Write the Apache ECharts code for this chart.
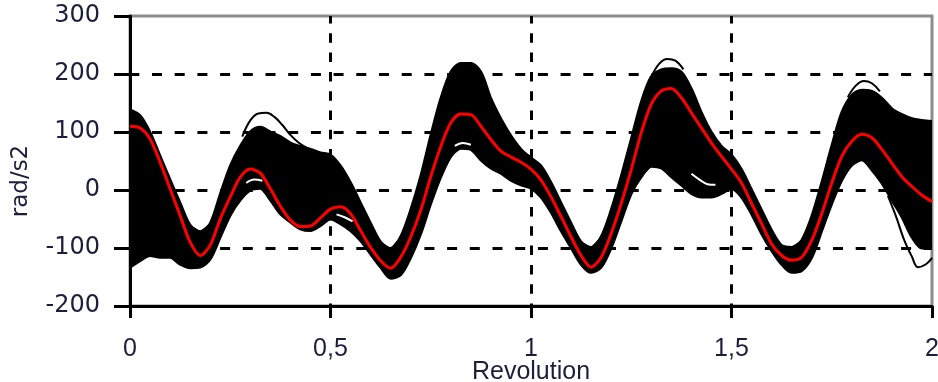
<!DOCTYPE html>
<html>
<head>
<meta charset="utf-8">
<script src="https://cdn.jsdelivr.net/npm/echarts@6/dist/echarts.min.js"></script>
<style>
  html, body { margin: 0; padding: 0; background: #fff; }
  #chart { width: 938px; height: 382px; }
</style>
</head>
<body>
<div id="chart"></div>
<script>
// sample positions along the revolution axis
const revolution = [
  0, 0.025, 0.05, 0.075, 0.1, 0.125, 0.15, 0.175, 0.2, 0.225,
  0.25, 0.275, 0.3, 0.325, 0.35, 0.375, 0.4, 0.425, 0.45, 0.475,
  0.5, 0.525, 0.55, 0.575, 0.6, 0.625, 0.65, 0.675, 0.7, 0.725,
  0.75, 0.775, 0.8, 0.825, 0.85, 0.875, 0.9, 0.925, 0.95, 0.975,
  1, 1.025, 1.05, 1.075, 1.1, 1.125, 1.15, 1.175, 1.2, 1.225,
  1.25, 1.275, 1.3, 1.325, 1.35, 1.375, 1.4, 1.425, 1.45, 1.475,
  1.5, 1.525, 1.55, 1.575, 1.6, 1.625, 1.65, 1.675, 1.7, 1.725,
  1.75, 1.775, 1.8, 1.825, 1.85, 1.875, 1.9, 1.925, 1.95, 1.975, 2
];

// mean curve (red)
const meanCurve = [
  110, 107, 88, 48, 2, -44, -90, -113, -95, -50,
  -12, 22, 36, 29, 2, -28, -52, -63, -62, -48,
  -33, -29, -41, -70, -99, -122, -135, -116, -81, -35,
  23, 75, 116, 131, 130, 110, 87, 67, 57, 48,
  36, 17, -12, -46, -81, -113, -133, -116, -75, -23,
  35, 99, 148, 171, 175, 159, 133, 107, 81, 58,
  36, 12, -23, -58, -93, -113, -121, -116, -87, -41,
  12, 58, 84, 96, 90, 70, 46, 23, 6, -9, -20
];

// top edge of the bundle of measured curves
const bandUpper = [
  138, 128, 99, 58, 17, -23, -61, -72, -58, -8,
  41, 75, 100, 108, 100, 92, 81, 75, 70, 64,
  60, 41, 12, -23, -58, -90, -101, -81, -35, 23,
  93, 157, 203, 218, 218, 203, 157, 122, 93, 70,
  55, 41, 12, -23, -58, -90, -99, -81, -35, 23,
  87, 151, 195, 207, 209, 203, 174, 133, 99, 75,
  60, 35, 0, -35, -70, -96, -99, -87, -46, 12,
  75, 133, 163, 172, 170, 158, 140, 130, 123, 120, 118
];

// bottom edge of the bundle
const bandLower = [
  -133, -122, -113, -116, -116, -128, -134, -133, -119, -81,
  -43, -17, 0, 3, -17, -41, -55, -67, -70, -61,
  -50, -58, -70, -87, -110, -133, -152, -146, -116, -75,
  -23, 23, 58, 72, 70, 52, 38, 29, 17, 9,
  3, -12, -38, -70, -99, -128, -142, -133, -99, -52,
  -6, 23, 41, 38, 23, 9, -6, -12, -12, -6,
  3, -12, -41, -75, -104, -128, -142, -139, -116, -70,
  -23, 17, 43, 52, 35, 12, -17, -46, -81, -100, -97
];

// single curves that leave the bundle
const strayNear035 = [[0.28, 92], [0.30, 120], [0.32, 132], [0.34, 133], [0.36, 126], [0.38, 112], [0.40, 95], [0.42, 82], [0.44, 73]];
const strayNear134 = [[1.30, 195], [1.32, 218], [1.34, 226], [1.36, 223], [1.38, 208]];
const strayNear184 = [[1.79, 160], [1.81, 180], [1.83, 188], [1.85, 184], [1.87, 170]];
const strayNear196 = [[1.89, -10], [1.91, -45], [1.93, -85], [1.95, -115], [1.965, -133], [1.985, -128], [2.0, -117]];

// thin gaps left between curves inside the bundle
const gapNear031 = [[0.29, 12], [0.31, 18], [0.33, 16]];
const gapNear053 = [[0.515, -42], [0.535, -47], [0.555, -54]];
const gapNear083 = [[0.81, 76], [0.83, 81], [0.85, 78]];
const gapNear142 = [[1.40, 28], [1.42, 18], [1.44, 10], [1.46, 9]];

const pairs = (ys) => revolution.map((x, i) => [x, ys[i]]);

const chart = echarts.init(document.getElementById('chart'));

const labelColor = '#1c1f3a';

function strayLine(data, color) {
  return {
    type: 'line',
    data: data,
    smooth: 0.4,
    showSymbol: false,
    silent: true,
    lineStyle: { color: color, width: 2 },
    z: 4
  };
}

const option = {
  animation: false,
  grid: {
    left: 130, right: 6, top: 16, bottom: 76,
    containLabel: false,
    outerBoundsMode: 'none',
    show: true,
    borderColor: '#8c8c8c',
    borderWidth: 3,
    backgroundColor: '#fff'
  },
  xAxis: {
    type: 'value',
    min: 0, max: 2, interval: 0.5,
    name: 'Revolution',
    nameLocation: 'middle',
    nameGap: 54,
    nameMoveOverlap: false,
    nameTextStyle: { fontFamily: 'Liberation Sans', fontSize: 25, color: labelColor },
    axisLine: { show: true, onZero: false, lineStyle: { color: '#000', width: 3 } },
    axisTick: { show: true, length: 12, lineStyle: { color: '#000', width: 3 } },
    axisLabel: {
      margin: 31,
      fontFamily: 'Liberation Sans', fontSize: 25, color: labelColor,
      formatter: v => String(v).replace('.', ',')
    },
    splitLine: {
      show: true,
      showMinLine: false,
      showMaxLine: false,
      lineStyle: { color: '#000', width: 3, type: [9.5, 9.8], dashOffset: 2 }
    }
  },
  yAxis: {
    type: 'value',
    min: -200, max: 300, interval: 100,
    name: 'rad/s2',
    nameLocation: 'middle',
    nameGap: 97,
    nameMoveOverlap: false,
    nameTextStyle: { fontFamily: 'DejaVu Sans', fontSize: 23, color: labelColor, padding: [0, 40, 0, 0] },
    axisLine: { show: true, onZero: false, lineStyle: { color: '#000', width: 3 } },
    axisTick: { show: true, length: 16, lineStyle: { color: '#000', width: 3 } },
    axisLabel: { margin: 30, fontFamily: 'DejaVu Sans', fontSize: 24, color: labelColor },
    splitLine: {
      show: true,
      showMinLine: false,
      showMaxLine: false,
      lineStyle: { color: '#000', width: 3, type: [10, 12.7], dashOffset: 0.7 }
    }
  },
  series: [
    {
      // filled bundle between the lower and upper edges
      type: 'custom',
      data: [[0, 0]],
      silent: true,
      clip: true,
      z: 2,
      renderItem: (params, api) => {
        const top = revolution.map((x, i) => api.coord([x, bandUpper[i]]));
        const bottom = revolution.map((x, i) => api.coord([x, bandLower[i]])).reverse();
        return {
          type: 'polygon',
          shape: { points: top.concat(bottom) },
          style: { fill: '#000', stroke: '#000', lineWidth: 1 }
        };
      }
    },
    {
      type: 'line', data: pairs(bandUpper), smooth: 0.3, showSymbol: false, silent: true,
      lineStyle: { color: '#000', width: 3 }, z: 3
    },
    {
      type: 'line', data: pairs(bandLower), smooth: 0.3, showSymbol: false, silent: true,
      lineStyle: { color: '#000', width: 3 }, z: 3
    },
    strayLine(strayNear035, '#000'),
    strayLine(strayNear134, '#000'),
    strayLine(strayNear184, '#000'),
    strayLine(strayNear196, '#000'),
    strayLine(gapNear031, '#fff'),
    strayLine(gapNear053, '#fff'),
    strayLine(gapNear083, '#fff'),
    strayLine(gapNear142, '#fff'),
    {
      type: 'line', data: pairs(meanCurve), smooth: 0.3, showSymbol: false, silent: true,
      lineStyle: { color: '#ff0000', width: 3 }, z: 6
    }
  ]
};

chart.setOption(option);
window.addEventListener('resize', () => chart.resize());
</script>
</body>
</html>
